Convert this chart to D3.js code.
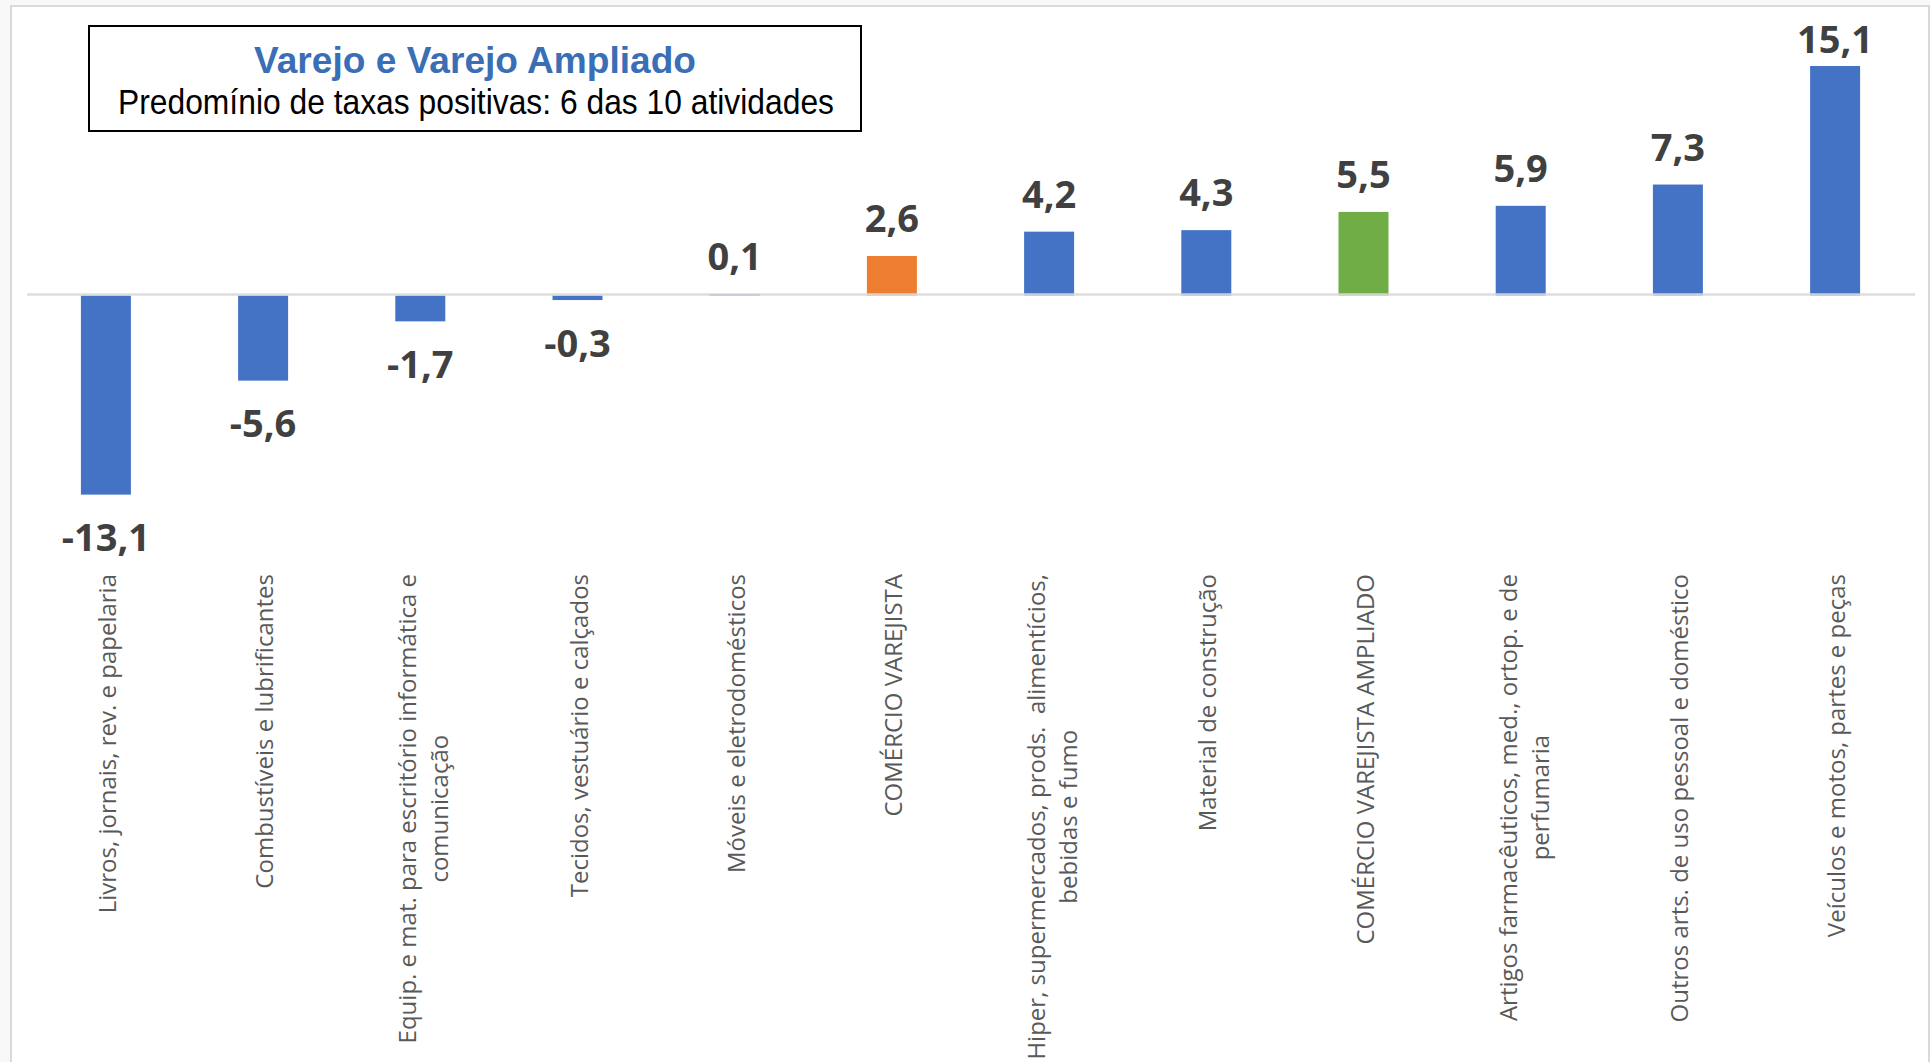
<!DOCTYPE html>
<html>
<head>
<meta charset="utf-8">
<script src="https://cdn.jsdelivr.net/npm/d3@7"></script>
<style>
html, body { margin: 0; padding: 0; background: #f8f8f8; }
svg { display: block; }
</style>
</head>
<body>
<svg id="chart" width="1930" height="1062"></svg>
<script>
// ---- data ----
const categories = [
  "Livros, jornais, rev. e papelaria",
  "Combustíveis e lubrificantes",
  "Equip. e mat. para escritório informática e\ncomunicação",
  "Tecidos, vestuário e calçados",
  "Móveis e eletrodomésticos",
  "COMÉRCIO VAREJISTA",
  "Hiper, supermercados, prods.  alimentícios,\nbebidas e fumo",
  "Material de construção",
  "COMÉRCIO VAREJISTA AMPLIADO",
  "Artigos farmacêuticos, med., ortop. e de\nperfumaria",
  "Outros arts. de uso pessoal e doméstico",
  "Veículos e motos, partes e peças"
];
const values = [-13.1, -5.6, -1.7, -0.3, 0.1, 2.6, 4.2, 4.3, 5.5, 5.9, 7.3, 15.1];
const titleText = "Varejo e Varejo Ampliado";
const subtitleText = "Predomínio de taxas positivas: 6 das 10 atividades";

// ---- styles ----
const defaultColor = "#4472C4";
const highlightColors = {
  "COMÉRCIO VAREJISTA": "#ED7D31",
  "COMÉRCIO VAREJISTA AMPLIADO": "#70AD47"
};

const svg = d3.select("#chart");

// chart frame
svg.append("rect")
  .attr("x", 11).attr("y", 6)
  .attr("width", 1918).attr("height", 1100)
  .attr("fill", "#ffffff")
  .attr("stroke", "#d9d9d9").attr("stroke-width", 2);

// scales
const x = d3.scaleBand()
  .domain(categories)
  .range([27.3, 1913.7])
  .paddingInner(0.682)
  .paddingOuter(0.341);

const y = d3.scaleLinear()
  .domain([-16, 16])
  .range([538.7, 52.3]);

const locale = d3.formatLocale({decimal: ",", thousands: ".", grouping: [3], currency: ["R$", ""], minus: "-"});
const fmt = locale.format(".1f");

const data = categories.map((c, i) => ({cat: c, value: values[i]}));

// bars
svg.append("g").selectAll("rect")
  .data(data)
  .join("rect")
  .attr("x", d => x(d.cat))
  .attr("width", x.bandwidth())
  .attr("y", d => y(Math.max(0, d.value)))
  .attr("height", d => Math.abs(y(d.value) - y(0)))
  .attr("fill", d => highlightColors[d.cat] || defaultColor);

// zero axis line
svg.append("line")
  .attr("x1", 27).attr("x2", 1915)
  .attr("y1", y(0) - 1).attr("y2", y(0) - 1)
  .attr("stroke", "#d9d9d9")
  .attr("stroke-width", 2.5)
  .attr("stroke-opacity", 0.9);

// value labels
svg.append("g").selectAll("text")
  .data(data)
  .join("text")
  .attr("x", d => x(d.cat) + x.bandwidth() / 2)
  .attr("y", d => d.value >= 0 ? Math.max(y(d.value) - 24, 53.3) : y(d.value) + 56.5)
  .attr("text-anchor", "middle")
  .attr("font-family", "'Open Sans', 'Noto Sans', sans-serif")
  .attr("font-weight", "bold")
  .attr("font-size", 38)
  .attr("fill", "#404040")
  .text(d => fmt(d.value));

// category labels (rotated, top-aligned, multi-line centered)
const labelTop = 574;
const catG = svg.append("g");
data.forEach(d => {
  const lines = d.cat.split("\n");
  const n = lines.length;
  const cx = x(d.cat) + x.bandwidth() / 2;
  const texts = lines.map(l => catG.append("text")
    .attr("font-family", "'Open Sans', 'Noto Sans', sans-serif")
    .attr("font-size", 24)
    .attr("fill", "#595959")
    .attr("text-anchor", "middle")
    .style("white-space", "pre")
    .text(l));
  const maxLen = d3.max(texts, t => t.node().getComputedTextLength());
  const cy = labelTop + maxLen / 2;
  texts.forEach((t, i) => {
    const bx = cx + 10 - 14 * (n - 1) + i * 32;
    t.attr("transform", `translate(${bx},${cy}) rotate(-90)`);
  });
});

// title box
svg.append("rect")
  .attr("x", 89).attr("y", 26)
  .attr("width", 772).attr("height", 105)
  .attr("fill", "#ffffff")
  .attr("stroke", "#000000").attr("stroke-width", 2);

svg.append("text")
  .attr("x", 475).attr("y", 73)
  .attr("text-anchor", "middle")
  .attr("font-family", "'Liberation Sans Narrow', 'Arial Narrow', 'Liberation Sans', Arial, sans-serif")
  .attr("font-weight", "bold")
  .attr("font-size", 36)
  .attr("fill", "#3A6EB5")
  .attr("textLength", 442)
  .attr("lengthAdjust", "spacingAndGlyphs")
  .text(titleText);

svg.append("text")
  .attr("x", 476).attr("y", 114)
  .attr("text-anchor", "middle")
  .attr("font-family", "'Liberation Sans Narrow', 'Arial Narrow', 'Liberation Sans', Arial, sans-serif")
  .attr("font-size", 35)
  .attr("fill", "#000000")
  .attr("textLength", 716)
  .attr("lengthAdjust", "spacingAndGlyphs")
  .text(subtitleText);
</script>
</body>
</html>
